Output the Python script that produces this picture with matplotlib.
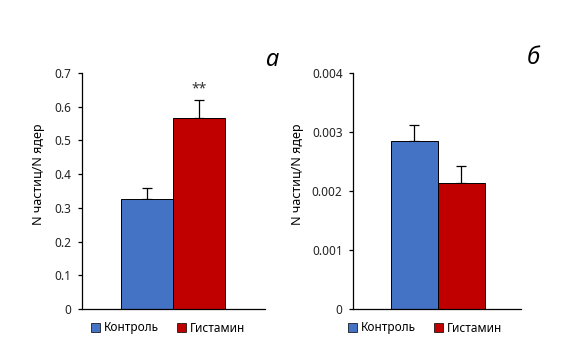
import matplotlib

matplotlib.use("Agg")
import matplotlib.pyplot as plt
from matplotlib.patches import Patch

plt.rcParams["font.family"] = ["Noto Sans", "DejaVu Sans"]

groups = ["Контроль", "Гистамин"]
colors = ["#4472C4", "#C00000"]
ylabel = "N частиц/N ядер"

vals_a = [0.325, 0.567]
err_a = [0.035, 0.053]
ticks_a = [0, 0.1, 0.2, 0.3, 0.4, 0.5, 0.6, 0.7]
tlab_a = ["0", "0.1", "0.2", "0.3", "0.4", "0.5", "0.6", "0.7"]

vals_b = [0.00285, 0.00214]
err_b = [0.00026, 0.00029]
ticks_b = [0, 0.001, 0.002, 0.003, 0.004]
tlab_b = ["0", "0.001", "0.002", "0.003", "0.004"]

fig = plt.figure(figsize=(5.75, 3.62), dpi=100)
ax1 = fig.add_axes([0.1426, 0.1464, 0.318, 0.652])
ax2 = fig.add_axes([0.6139, 0.1464, 0.292, 0.652])


def panel(ax, vals, err, ticks, tlab, xlim):
    x = list(range(len(vals)))
    ax.bar(x, vals, width=1.0, color=colors, edgecolor="black", linewidth=0.7,
           zorder=2)
    ax.errorbar(x, vals, yerr=[[0] * len(err), err], fmt="none",
                ecolor="black", elinewidth=0.9, capsize=3.5, capthick=0.9,
                zorder=1)
    ax.set_xlim(*xlim)
    ax.set_ylim(ticks[0], ticks[-1])
    ax.set_yticks(ticks)
    ax.set_yticklabels(tlab)
    ax.set_xticks([])
    for s in ("top", "right"):
        ax.spines[s].set_visible(False)
    for s in ("left", "bottom"):
        ax.spines[s].set_linewidth(0.9)
    ax.tick_params(axis="y", length=3, width=0.9, labelsize=8.5, pad=4.5,
                   labelcolor="#222222")
    ax.set_ylabel(ylabel, fontsize=9)


panel(ax1, vals_a, err_a, ticks_a, tlab_a, (-1.25, 2.27))
panel(ax2, vals_b, err_b, ticks_b, tlab_b, (-1.307, 2.263))
ax1.yaxis.set_label_coords(-0.2, 0.57)
ax2.yaxis.set_label_coords(-0.29, 0.57)

ax1.text(1, vals_a[1] + err_a[1] + 0.012, "**", ha="center", va="bottom",
         fontsize=10, color="#333333")

fig.text(272 / 575, 1 - 60 / 362, "а", fontsize=17, style="italic",
         ha="center", va="center")
fig.text(533 / 575, 1 - 58 / 362, "б", fontsize=17, style="italic",
         ha="center", va="center")

handles = [Patch(facecolor=c, edgecolor="black", linewidth=0.5) for c in colors]
for cx in (168 / 575, 425 / 575):
    fig.legend(handles, groups, loc="center", bbox_to_anchor=(cx, 1 - 328 / 362),
               ncol=2, frameon=False, fontsize=8.5, handlelength=0.8,
               handleheight=0.8, handletextpad=0.3, columnspacing=1.5)

fig.savefig("out.png", dpi=100)
